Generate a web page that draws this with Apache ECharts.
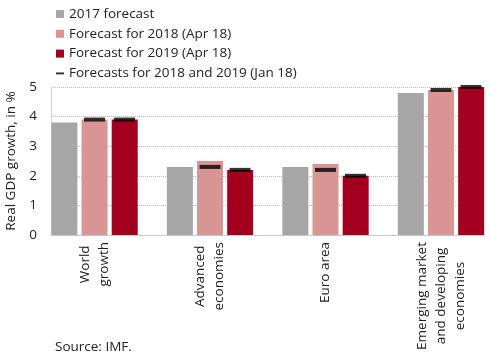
<!DOCTYPE html>
<html><head><meta charset="utf-8">
<script src="https://cdn.jsdelivr.net/npm/echarts@6/dist/echarts.min.js"></script>
<style>html,body{margin:0;padding:0;background:#fff}#c{width:490px;height:360px}</style>
</head><body><div id="c"></div>
<script>
var categories = ['World\ngrowth', 'Advanced\neconomies', 'Euro area', 'Emerging market\nand developing\neconomies'];
var forecast2017 = [3.8, 2.3, 2.3, 4.8];
var forecast2018Apr = [3.9, 2.5, 2.4, 4.9];
var forecast2019Apr = [3.9, 2.2, 2.0, 5.0];
var jan2018 = [3.9, 2.3, 2.2, 4.9];
var jan2019 = [3.9, 2.2, 2.0, 5.0];
var yTicks = [0, 1, 2, 3, 4, 5];

var FONT = 'Open Sans';
var FS = 13.5;
var TXT = '#222';
function pts(arr){ return arr.map(function(v,i){ return [i, v]; }); }
var janName = 'Forecasts for 2018 and 2019 (Jan 18)';
var chart = echarts.init(document.getElementById('c'), null, {renderer:'canvas'});
chart.setOption({
  animation: false,
  textStyle: {fontFamily: FONT},
  legend: {
    orient: 'vertical', left: 51, top: 2, itemWidth: 8, itemHeight: 8, itemGap: 5.8,
    textStyle: {fontFamily: FONT, fontSize: FS, color: TXT},
    data: [
      {name: '2017 forecast', icon: 'rect'},
      {name: 'Forecast for 2018 (Apr 18)', icon: 'rect'},
      {name: 'Forecast for 2019 (Apr 18)', icon: 'rect'},
      {name: janName, icon: 'path://M0,0L0,0M0,3.8L10,3.8L10,6.2L0,6.2ZM10,10L10,10', itemStyle: {color: '#000'}}
    ]
  },
  grid: {left: 51, right: 5, top: 87, bottom: 125, containLabel: false, outerBoundsMode: 'none'},
  xAxis: {
    type: 'value', min: -0.377, max: 3.381,
    axisLine: {show: true, onZero: false, lineStyle: {color: '#c8c8c8', width: 1}},
    axisTick: {show: false},
    splitLine: {show: false},
    axisLabel: {
      customValues: [0, 1, 2, 3],
      rotate: 90, margin: 7, fontFamily: FONT, fontSize: FS, color: TXT,
      formatter: function(v){
        var s = categories[Math.round(v)] || '';
        return s.split('\n').map(function(l){ return '{c|' + l + '}'; }).join('\n');
      },
      rich: {c: {align: 'center', fontFamily: FONT, fontSize: FS, color: TXT, lineHeight: 19}}
    }
  },
  yAxis: {
    type: 'value', min: yTicks[0], max: yTicks[yTicks.length-1], interval: 1,
    name: 'Real GDP growth, in %', nameLocation: 'middle', nameGap: 32,
    nameTextStyle: {fontFamily: FONT, fontSize: FS, color: TXT},
    axisLine: {show: true, onZero: false, lineStyle: {color: '#d0d0d0'}},
    axisTick: {show: false},
    axisLabel: {fontFamily: FONT, fontSize: FS, color: TXT, margin: 14},
    splitLine: {show: true, lineStyle: {color: '#bbbbbb', type: [1, 1]}}
  },
  series: [
    {name: '2017 forecast', type: 'bar', data: pts(forecast2017), barWidth: 26, barGap: '16%', itemStyle: {color: '#a6a6a6'}},
    {name: 'Forecast for 2018 (Apr 18)', type: 'bar', data: pts(forecast2018Apr), barWidth: 26, barGap: '16%', itemStyle: {color: '#d99594'}},
    {name: 'Forecast for 2019 (Apr 18)', type: 'bar', data: pts(forecast2019Apr), barWidth: 26, barGap: '16%', itemStyle: {color: '#a3001f'}},
    {name: janName, type: 'scatter', data: pts(jan2018), symbol: 'rect', symbolSize: [21, 4], symbolOffset: [0, 0], z: 5, itemStyle: {color: '#000'}},
    {name: janName, type: 'scatter', data: pts(jan2019), symbol: 'rect', symbolSize: [21, 4], symbolOffset: [30, 0], z: 5, itemStyle: {color: '#000'}}
  ],
  graphic: [{type: 'text', left: 55, top: 340, style: {text: 'Source: IMF.', fontFamily: FONT, fontSize: FS, fill: TXT}}]
});
</script></body></html>
